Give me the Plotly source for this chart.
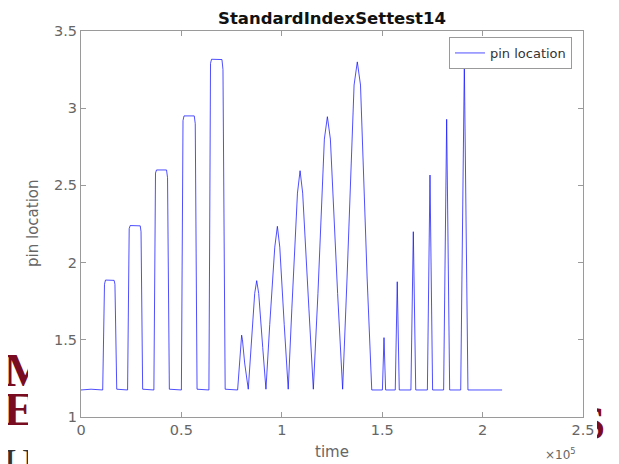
import plotly.graph_objects as go

# ---- data (time axis shown in units of 10^5) ----
time_vals = [
    0, 5000, 10800,
    11200, 11700, 12200, 16500, 16900, 17300, 17800,
    23200, 23600, 24000, 24500, 29500, 29900, 30300, 30700,
    36300, 36700, 37100, 37600, 42600, 43100, 43500, 44000,
    50000, 50400, 50800, 51300, 56400, 56900, 57300, 57800,
    63700, 64100, 64500, 65000, 70200, 70700, 71200, 71800,
    78000, 79000, 79700, 80000, 80400, 81500, 83300,
    85000, 86500, 87500, 88500, 90500, 92100,
    94000, 96500, 97800, 99000, 101200, 103200,
    105000, 107800, 109100, 110400, 113500, 115700,
    118000, 121200, 122700, 124200, 127800, 130300,
    132500, 136000, 137600, 139200, 142500, 144800,
    150100, 150900, 151700,
    156500, 157500, 158500,
    164300, 165500, 166700,
    172500, 173800, 175100,
    180600, 182100, 183600,
    189100, 190900, 192700,
    209700,
]
pin_vals = [
    1.175, 1.18, 1.175,
    1.5, 1.86, 1.887, 1.885, 1.86, 1.5, 1.18,
    1.175, 1.7, 2.22, 2.24, 2.238, 2.2, 1.6, 1.18,
    1.175, 1.9, 2.58, 2.60, 2.60, 2.55, 1.8, 1.18,
    1.175, 2.0, 2.92, 2.95, 2.95, 2.9, 2.0, 1.18,
    1.175, 2.2, 3.29, 3.317, 3.315, 3.25, 2.2, 1.18,
    1.175, 1.35, 1.5, 1.53, 1.5, 1.35, 1.18,
    1.5, 1.8, 1.883, 1.8, 1.45, 1.18,
    1.6, 2.1, 2.235, 2.1, 1.6, 1.18,
    1.7, 2.45, 2.595, 2.45, 1.7, 1.18,
    1.8, 2.8, 2.945, 2.8, 1.8, 1.18,
    1.9, 3.15, 3.30, 3.15, 1.9, 1.175,
    1.175, 1.514, 1.175,
    1.175, 1.876, 1.175,
    1.175, 2.20, 1.175,
    1.175, 2.567, 1.175,
    1.175, 2.928, 1.175,
    1.175, 3.286, 1.175,
    1.175,
]

x_tick_vals = [0, 50000, 100000, 150000, 200000, 250000]
x_tick_labels = ["0", "0.5", "1", "1.5", "2", "2.5"]
y_tick_vals = [1, 1.5, 2, 2.5, 3, 3.5]
y_tick_labels = ["1", "1.5", "2", "2.5", "3", "3.5"]

W, H = 619, 464
OFF = 8  # the page body margin shifts the figure by 8 px
L, R, T, B = 81, 583, 31, 417  # plot area in window pixels

def px(xp):
    return (xp - OFF) / W

def py(yp):
    return 1 - (yp - OFF) / H

axis_col = "#9a9a9a"
text_col = "#666666"
font = "DejaVu Sans"

fig = go.Figure()
fig.add_trace(go.Scatter(
    x=time_vals, y=pin_vals, mode="lines", name="pin location",
    line=dict(color="rgba(20,20,255,0.75)", width=1),
))

# background slide letters, clipped by small helper subplots
fig.add_trace(go.Scatter(x=[4, 4], y=[374, 413], mode="text", text=["M", "E"],
                         textposition="middle right", xaxis="x2", yaxis="y2",
                         textfont=dict(family="Liberation Serif", size=46, color="#7a0c22", weight="bold"),
                         showlegend=False, hoverinfo="skip", cliponaxis=True))
fig.add_trace(go.Scatter(x=[4], y=[466], mode="text", text=["UN"],
                         textposition="middle right", xaxis="x2", yaxis="y2",
                         textfont=dict(family="Liberation Serif", size=40, color="#333333"),
                         showlegend=False, hoverinfo="skip", cliponaxis=True))
fig.add_trace(go.Scatter(x=[605], y=[427], mode="text", text=["S"],
                         textposition="middle left", xaxis="x3", yaxis="y3",
                         textfont=dict(family="Liberation Serif", size=46, color="#7a0c22", weight="bold"),
                         showlegend=False, hoverinfo="skip", cliponaxis=True))

hidden = dict(visible=False, automargin=False, fixedrange=True)

fig.update_layout(
    width=W, height=H,
    margin=dict(l=0, r=0, t=0, b=0, autoexpand=False),
    paper_bgcolor="white", plot_bgcolor="white",
    font=dict(family=font, color=text_col, size=14),
    title=dict(text="<b>StandardIndexSettest14</b>", x=px((L + R) / 2), xanchor="center",
               y=py(18), yanchor="middle", yref="container", automargin=False,
               font=dict(family=font, size=16.5, color="#111111")),
    xaxis=dict(domain=[px(L), px(R)], range=[0, 250000], tickvals=x_tick_vals, ticktext=x_tick_labels,
               showline=True, linecolor=axis_col, linewidth=1, mirror="ticks", automargin=False,
               ticks="inside", ticklen=5, tickcolor=axis_col, showgrid=False, zeroline=False,
               tickfont=dict(size=14.5, color=text_col), anchor="y"),
    yaxis=dict(domain=[py(B), py(T)], range=[1, 3.5], tickvals=y_tick_vals, ticktext=y_tick_labels,
               showline=True, linecolor=axis_col, linewidth=1, mirror="ticks", automargin=False,
               ticks="inside", ticklen=5, tickcolor=axis_col, showgrid=False, zeroline=False,
               tickfont=dict(size=14.5, color=text_col), anchor="x"),
    xaxis2=dict(domain=[0, px(28)], range=[OFF, 28], anchor="y2", **hidden),
    yaxis2=dict(domain=[0, 1], range=[H + OFF, OFF], anchor="x2", **hidden),
    xaxis3=dict(domain=[px(597), 1], range=[597, W + OFF], anchor="y3", **hidden),
    yaxis3=dict(domain=[0, 1], range=[H + OFF, OFF], anchor="x3", **hidden),
    legend=dict(x=px(572), xanchor="right", y=py(37), yanchor="top",
                bordercolor=axis_col, borderwidth=1, bgcolor="white",
                font=dict(family=font, size=13, color="#333333")),
    showlegend=True,
)

fig.add_annotation(text="time", x=px((L + R) / 2), y=py(452), xref="paper", yref="paper",
                   xanchor="center", yanchor="middle", showarrow=False,
                   font=dict(family=font, size=15, color=text_col))
fig.add_annotation(text="pin location", x=px(33), y=py(224), xref="paper", yref="paper",
                   xanchor="center", yanchor="middle", showarrow=False, textangle=-90,
                   font=dict(family=font, size=15, color=text_col))
fig.add_annotation(text="\u00d710<sup>5</sup>", x=px(578), y=py(454), xref="paper", yref="paper",
                   xanchor="right", yanchor="middle", showarrow=False,
                   font=dict(family=font, size=12, color=text_col))

fig.write_html("out.html")
